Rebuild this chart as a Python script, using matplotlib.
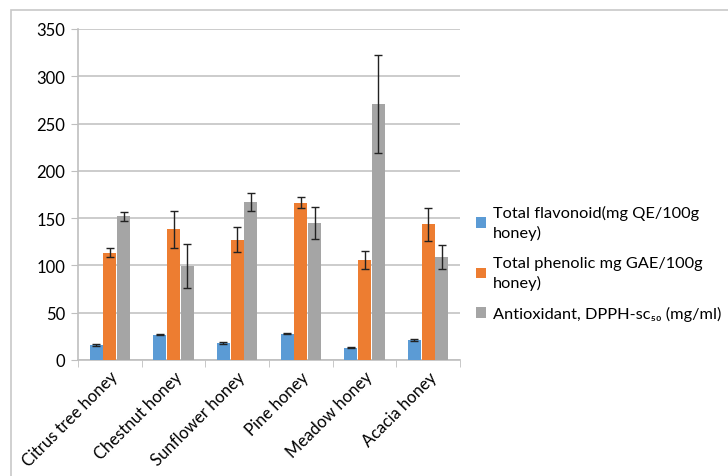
import numpy as np
import matplotlib
matplotlib.use("Agg")
import matplotlib.pyplot as plt
from matplotlib.patches import Rectangle

plt.rcParams['font.family'] = ['Lato', 'DejaVu Sans']

honeys = ["Citrus tree honey", "Chestnut honey", "Sunflower honey",
          "Pine honey", "Meadow honey", "Acacia honey"]
flavonoid = [15.9, 26.8, 18.0, 27.9, 13.0, 21.2]
flavonoid_err = [0.8, 0.8, 0.8, 0.8, 0.8, 0.8]
phenolic = [113.6, 138.0, 127.4, 166.5, 105.9, 143.3]
phenolic_err = [4.5, 19.5, 13.7, 6.0, 9.7, 17.0]
antiox = [152.0, 99.5, 167.3, 145.0, 270.6, 108.7]
antiox_err = [5.0, 23.0, 9.7, 16.6, 51.5, 12.7]

labels = ["Total flavonoid(mg QE/100g\nhoney)",
          "Total phenolic mg GAE/100g\nhoney)",
          "Antioxidant, DPPH-sc\u2085\u2080 (mg/ml)"]
colors = ["#5b9bd5", "#ed7d31", "#a5a5a5"]

W, H = 728, 477
fig = plt.figure(figsize=(W / 100, H / 100), dpi=100)
fig.patches.append(Rectangle((11 / W, -0.1), 1.2, 1 - 11 / H + 0.1,
                             transform=fig.transFigure, fill=False,
                             edgecolor="#c8c8c8", lw=1.2))

ax = fig.add_axes([78 / W, 1 - 361 / H, (460 - 78) / W, (361 - 30) / H])
x = np.arange(len(honeys))
bw = 0.215
series = [(flavonoid, flavonoid_err), (phenolic, phenolic_err), (antiox, antiox_err)]
for i, (vals, errs) in enumerate(series):
    ax.bar(x + (i - 1) * bw, vals, bw * 0.97, color=colors[i], label=labels[i],
           yerr=errs, capsize=3, error_kw=dict(ecolor="#222222", elinewidth=1, capthick=1),
           zorder=3)

ax.set_xlim(-0.5, len(honeys) - 0.5)
ax.set_ylim(0, 350)
ax.set_yticks(range(0, 351, 50))
ax.yaxis.grid(True, color="#c4c4c4", lw=1.2, zorder=0)
ax.set_axisbelow(True)
for s in ["top", "right"]:
    ax.spines[s].set_visible(False)
for s in ["left", "bottom"]:
    ax.spines[s].set_color("#bfbfbf")
    ax.spines[s].set_linewidth(1.2)
ax.tick_params(axis="y", length=5, color="#bfbfbf", labelsize=12, pad=4)
ax.set_xticks(x)
ax.set_xticklabels(honeys, rotation=45, ha="right", rotation_mode="anchor", fontsize=12)
ax.tick_params(axis="x", length=0, pad=6)
ax.set_xticks(np.arange(len(honeys) + 1) - 0.5, minor=True)
ax.tick_params(axis="x", which="minor", length=5, color="#bfbfbf")

leg = ax.legend(loc="center left", bbox_to_anchor=(468 / W, 1 - 264 / H),
                bbox_transform=fig.transFigure, frameon=False, fontsize=11.8,
                borderpad=0, handlelength=0.6, handleheight=0.6, handletextpad=0.4,
                labelspacing=0.95)
for t in leg.get_texts():
    t.set_linespacing(1.45)

fig.savefig("out.png", dpi=100)
